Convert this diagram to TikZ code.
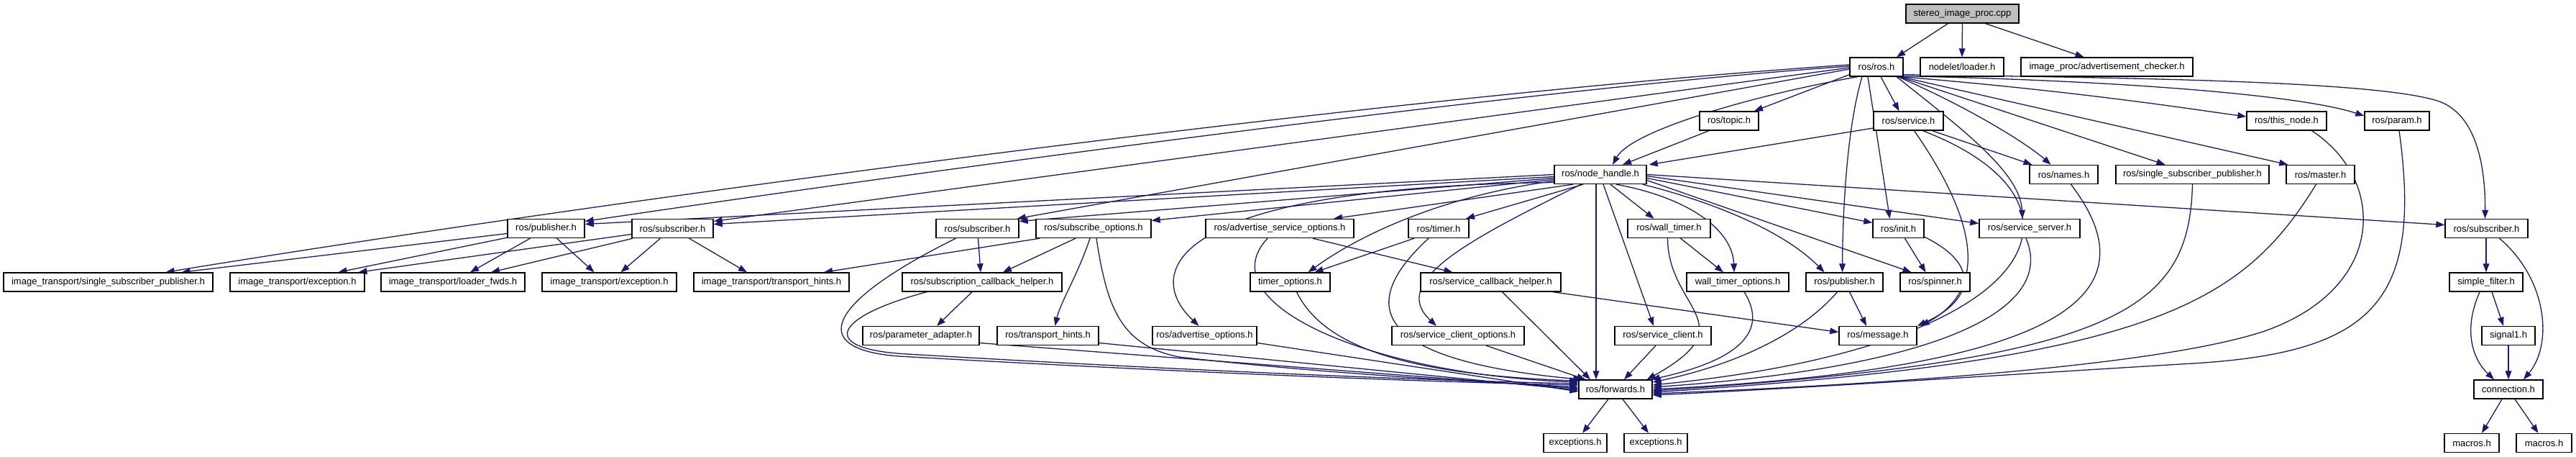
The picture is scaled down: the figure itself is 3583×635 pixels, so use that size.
\documentclass[tikz,border=0pt]{standalone}
\usepackage{fontspec}
\setmainfont{Liberation Sans}
\usetikzlibrary{arrows.meta,calc}
\definecolor{edgecol}{HTML}{191970}
\pgfdeclarelayer{background}
\pgfsetlayers{background,main}
\begin{document}
\begin{tikzpicture}[x=0.5pt,y=-0.5pt,
  nd/.style={draw=black,line width=0.7pt,fill=white,minimum height=13pt,inner sep=0pt,font=\fontsize{6.5}{7.5}\selectfont},
  e/.style={draw=edgecol,line width=0.65pt,-{Triangle[length=6pt,width=4.4pt]}}]
\useasboundingbox (0,0) rectangle (3583,635);
% row 1
\node[nd,fill=gray!50,minimum width=78.5pt] (sip) at (2729.5,19) {stereo\_image\_proc.cpp};
% row 2
\node[nd,minimum width=37pt] (rosh) at (2610,93) {ros/ros.h};
\node[nd,minimum width=58pt] (loader) at (2729,93) {nodelet/loader.h};
\node[nd,minimum width=119.5pt] (adv) at (2930.5,93) {image\_proc/advertisement\_checker.h};
% row 3
\node[nd,minimum width=41pt] (topic) at (2405,168) {ros/topic.h};
\node[nd,minimum width=48.5pt] (service) at (2654.5,168) {ros/service.h};
\node[nd,minimum width=55.5pt] (thisnode) at (3180.5,168) {ros/this\_node.h};
\node[nd,minimum width=45pt] (param) at (3334,168) {ros/param.h};
% row 4
\node[nd,minimum width=64pt] (nh) at (2226,242.5) {ros/node\_handle.h};
\node[nd,minimum width=47.5pt] (names) at (2870.5,242.5) {ros/names.h};
\node[nd,minimum width=106.5pt] (ssp) at (3049.5,242.5) {ros/single\_subscriber\_publisher.h};
\node[nd,minimum width=47.5pt] (master) at (3227.5,242.5) {ros/master.h};
% row 5
\node[nd,minimum width=53.5pt] (pub1) at (759.5,317.5) {ros/publisher.h};
\node[nd,minimum width=56.5pt] (sub1) at (935.5,317.5) {ros/subscriber.h};
\node[nd,minimum width=57.5pt] (sub2) at (1359.5,317.5) {ros/subscriber.h};
\node[nd,minimum width=80pt] (subopt) at (1521,317.5) {ros/subscribe\_options.h};
\node[nd,minimum width=103pt] (advsrv) at (1780,317.5) {ros/advertise\_service\_options.h};
\node[nd,minimum width=42pt] (timer) at (2001,317.5) {ros/timer.h};
\node[nd,minimum width=57.5pt] (walltimer) at (2321.5,317.5) {ros/wall\_timer.h};
\node[nd,minimum width=35.5pt] (init) at (2640.5,317.5) {ros/init.h};
\node[nd,minimum width=70pt] (srvserver) at (2823,317.5) {ros/service\_server.h};
\node[nd,minimum width=57.5pt] (sub3) at (3458.5,317.5) {ros/subscriber.h};
% row 6
\node[nd,minimum width=145.5pt] (itssp) at (150.5,392) {image\_transport/single\_subscriber\_publisher.h};
\node[nd,minimum width=93.5pt] (itexc1) at (413.5,392) {image\_transport/exception.h};
\node[nd,minimum width=100pt] (itloader) at (630,392) {image\_transport/loader\_fwds.h};
\node[nd,minimum width=93.5pt] (itexc2) at (847.5,392) {image\_transport/exception.h};
\node[nd,minimum width=108pt] (ittrans) at (1073,392) {image\_transport/transport\_hints.h};
\node[nd,minimum width=111pt] (subcb) at (1366,392) {ros/subscription\_callback\_helper.h};
\node[nd,minimum width=55.5pt] (timeropt) at (1794.5,392) {timer\_options.h};
\node[nd,minimum width=97.5pt] (srvcb) at (2073.5,392) {ros/service\_callback\_helper.h};
\node[nd,minimum width=71pt] (walltopt) at (2417,392) {wall\_timer\_options.h};
\node[nd,minimum width=53.5pt] (pub2) at (2565.5,392) {ros/publisher.h};
\node[nd,minimum width=48.5pt] (spinner) at (2691.5,392) {ros/spinner.h};
\node[nd,minimum width=51pt] (simplef) at (3458,392) {simple\_filter.h};
% row 7
\node[nd,minimum width=81pt] (paramad) at (1281,466.5) {ros/parameter\_adapter.h};
\node[nd,minimum width=70.5pt] (transh) at (1457.5,466.5) {ros/transport\_hints.h};
\node[nd,minimum width=72.5pt] (advopt) at (1675.5,466.5) {ros/advertise\_options.h};
\node[nd,minimum width=92pt] (srvclopt) at (2028,466.5) {ros/service\_client\_options.h};
\node[nd,minimum width=67pt] (srvcl) at (2313,466.5) {ros/service\_client.h};
\node[nd,minimum width=54pt] (message) at (2612,466.5) {ros/message.h};
\node[nd,minimum width=37pt] (signal1) at (3489,466.5) {signal1.h};
% row 8
\node[nd,minimum width=51pt] (fwd) at (2247,541) {ros/forwards.h};
\node[nd,minimum width=48pt] (conn) at (3489,541) {connection.h};
% row 9
\node[nd,minimum width=44pt] (exc1) at (2191,615.5) {exceptions.h};
\node[nd,minimum width=44pt] (exc2) at (2303,615.5) {exceptions.h};
\node[nd,minimum width=38pt] (macros1) at (3438,615.5) {macros.h};
\node[nd,minimum width=38.5pt] (macros2) at (3538.5,615.5) {macros.h};

\begin{pgfonlayer}{background}
% ---- edges from stereo_image_proc.cpp
\draw[e] ($(sip.south)+(-20,0)$) -- ($(rosh.north)+(28,0)$);
\draw[e] (sip.south) -- (loader.north);
\draw[e] ($(sip.south)+(32,0)$) -- ($(adv.north)+(-32,0)$);
% ---- ros/ros.h
\draw[e] ($(rosh.south west)+(0,-3)$) -- ($(topic.north)+(35,0)$);
\draw[e] ($(rosh.south)+(-26,0)$) .. controls (2450,130) and (2270,180) .. ($(nh.north)+(17,0)$);
\draw[e] ($(rosh.south)+(6,0)$) -- ($(service.north)+(-13,0)$);
\draw[e] ($(rosh.south)+(30,0)$) .. controls (2740,150) and (2820,200) .. ($(names.north)+(-18,0)$);
\draw[e] ($(rosh.south east)+(-6,0)$) -- ($(ssp.north)+(-38,0)$);
\draw[e] ($(rosh.south east)+(-4,0)$) -- ($(master.north west)+(3,0)$);
\draw[e] ($(rosh.south east)+(-2,0)$) .. controls (2900,128) and (3050,152) .. ($(thisnode.west)+(0,-6)$);
\draw[e] ($(rosh.south east)+(0,-1)$) .. controls (2950,112) and (3200,132) .. ($(param.west)+(0,-7)$);
\draw[e] ($(rosh.south east)+(0,-3)$) .. controls (2950,108) and (3300,112) .. (3390,140) .. controls (3440,156) and (3457,220) .. ($(sub3.north)+(-2,0)$);
\draw[e] ($(rosh.south)+(-12,0)$) -- ($(init.north)+(-12,0)$);
\draw[e] ($(rosh.south)+(-20,0)$) .. controls (2568,180) and (2563,300) .. ($(pub2.north)+(-3,0)$);
\draw[e] ($(rosh.south)+(28,0)$) .. controls (2730,180) and (2810,240) .. ($(srvserver.north)+(-10,0)$);
\draw[e] ($(rosh.west)+(0,-3)$) .. controls (1900,135) and (800,285) .. ($(itssp.north)+(80,0)$);
\draw[e] ($(rosh.west)+(0,-1)$) .. controls (2100,125) and (1200,250) .. ($(pub1.east)+(0,-10)$);
\draw[e] ($(rosh.west)+(0,1)$) -- ($(sub1.east)+(0,-10)$);
\draw[e] ($(rosh.west)+(0,3)$) -- ($(sub2.north east)+(-3,0)$);
% ---- topic, service
\draw[e] ($(topic.south)+(-28,0)$) -- ($(nh.north)+(31,0)$);
\draw[e] ($(service.west)+(0,10)$) -- ($(nh.north east)+(3,0)$);
\draw[e] ($(service.south)+(33,0)$) -- ($(names.north)+(-44,0)$);
\draw[e] ($(service.south)+(8,0)$) .. controls (2745,300) and (2770,400) .. ($(message.north east)+(5,0)$);
\draw[e] ($(service.south)+(20,0)$) .. controls (2930,280) and (2850,480) .. ($(fwd.east)+(0,-6)$);
% ---- node_handle
\draw[e] (nh.west) -- ($(pub1.east)+(0,-6)$);
\draw[e] ($(nh.west)+(0,3)$) -- ($(sub1.east)+(0,-6)$);
\draw[e] ($(nh.west)+(0,5)$) -- ($(sub2.east)+(0,-10)$);
\draw[e] ($(nh.west)+(0,7)$) -- ($(subopt.east)+(0,-11)$);
\draw[e] ($(nh.south)+(-38,0)$) -- ($(advsrv.north)+(75,0)$);
\draw[e] ($(nh.south)+(-24,0)$) -- ($(timer.north)+(38,0)$);
\draw[e] ($(nh.west)+(0,9)$) .. controls (2020,270) and (1900,320) .. ($(timeropt.north)+(25,0)$);
\draw[e] ($(nh.south)+(-27,0)$) .. controls (2050,330) and (1930,390) .. ($(srvclopt.north)+(-30,0)$);
\draw[e] ($(nh.south)+(-6,0)$) -- ($(fwd.north)+(-27,0)$);
\draw[e] ($(nh.south)+(4,0)$) -- ($(srvcl.north)+(-13,0)$);
\draw[e] ($(nh.south)+(14,0)$) -- ($(walltimer.north)+(-21,0)$);
\draw[e] ($(nh.south)+(22,0)$) .. controls (2350,275) and (2410,320) .. ($(walltopt.north)+(-5,0)$);
\draw[e] ($(nh.south east)+(-6,0)$) .. controls (2380,280) and (2480,320) .. ($(pub2.north)+(-28,0)$);
\draw[e] ($(nh.east)+(0,8)$) -- ($(spinner.north)+(-33,0)$);
\draw[e] ($(nh.east)+(0,5)$) -- ($(init.west)+(0,-8)$);
\draw[e] ($(nh.east)+(0,2)$) -- ($(srvserver.west)+(0,-7)$);
\draw[e] (nh.east) -- ($(sub3.west)+(0,-5)$);
\draw[e] ($(nh.west)+(0,11)$) .. controls (1620,260) and (1590,380) .. ($(advopt.north)+(-8,0)$);
% ---- left group
\draw[e] ($(pub1.west)+(0,7)$) -- ($(itssp.north)+(102,0)$);
\draw[e] ($(pub1.south west)+(0,-1)$) -- ($(itexc1.north)+(57,0)$);
\draw[e] ($(pub1.south)+(-22,0)$) -- ($(itloader.north)+(24,0)$);
\draw[e] ($(pub1.south)+(15,0)$) -- ($(itexc2.north)+(-21,0)$);
\draw[e] ($(sub1.west)+(0,8)$) -- ($(itexc1.north)+(85,0)$);
\draw[e] ($(sub1.south west)+(2,0)$) -- ($(itloader.north)+(53,0)$);
\draw[e] ($(sub1.south)+(-17,0)$) -- ($(itexc2.north)+(16,0)$);
\draw[e] ($(sub1.south)+(23,0)$) -- ($(ittrans.north)+(-34,0)$);
\draw[e] ($(sub2.south)+(1,0)$) -- ($(subcb.north)+(-2,0)$);
\draw[e] ($(subopt.south west)+(6,0)$) -- ($(ittrans.north)+(73,0)$);
\draw[e] ($(subopt.south)+(-25,0)$) -- ($(subcb.north)+(29,0)$);
\draw[e] ($(subopt.south)+(-5,0)$) .. controls (1500,380) and (1475,420) .. ($(transh.north)+(10,0)$);
\draw[e] ($(subcb.south)+(-14,0)$) -- ($(paramad.north)+(22,0)$);
\draw[e] ($(advsrv.south)+(46,0)$) -- ($(srvcb.north)+(-53,0)$);
\draw[e] ($(timer.south)+(-34,0)$) -- ($(timeropt.north)+(34,0)$);
\draw[e] ($(walltimer.south)+(16,0)$) -- ($(walltopt.north)+(-20,0)$);
% ---- into ros/forwards.h from the left
\draw[e] ($(sub2.south)+(-30,0)$) .. controls (1150,420) and (1120,485) .. (1250,495) .. controls (1600,515) and (1950,530) .. ($(fwd.west)+(0,-6)$);
\draw[e] ($(subcb.south)+(-77,0)$) .. controls (1160,440) and (1135,485) .. (1262,492) .. controls (1600,512) and (1950,528) .. ($(fwd.west)+(0,-8)$);
\draw[e] ($(subopt.south)+(4,0)$) .. controls (1540,430) and (1560,480) .. (1640,496) .. controls (1850,520) and (2050,530) .. ($(fwd.west)+(0,-3)$);
\draw[e] ($(paramad.east)+(0,10)$) -- ($(fwd.west)+(0,-1)$);
\draw[e] ($(transh.east)+(0,10)$) -- ($(fwd.west)+(0,1)$);
\draw[e] ($(advopt.east)+(0,10)$) -- ($(fwd.west)+(0,3)$);
\draw[e] ($(advsrv.south)+(-17,0)$) .. controls (1680,420) and (1900,520) .. ($(fwd.west)+(0,-10)$);
\draw[e] ($(timeropt.south)+(9,0)$) .. controls (1840,480) and (1950,520) .. ($(fwd.north west)+(0,2)$);
\draw[e] ($(timer.south)+(-14,0)$) .. controls (1890,420) and (1900,500) .. ($(fwd.north west)+(5,0)$);
\draw[e] ($(srvclopt.south)+(39,0)$) -- ($(fwd.north west)+(10,0)$);
\draw[e] ($(srvcb.south)+(16,0)$) -- ($(fwd.north)+(-35,0)$);
\draw[e] ($(srvcl.south)+(-10,0)$) -- ($(fwd.north)+(12,0)$);
\draw[e] ($(walltimer.south)+(-2,0)$) .. controls (2320,430) and (2430,450) .. ($(fwd.north east)+(-8,0)$);
\draw[e] ($(walltopt.south)+(9,0)$) .. controls (2460,460) and (2420,500) .. ($(fwd.north east)+(-2,0)$);
\draw[e] ($(pub2.south)+(-10,0)$) .. controls (2500,470) and (2400,510) .. ($(fwd.east)+(0,-10)$);
% ---- into ros/message.h, spinner
\draw[e] ($(pub2.south)+(7,0)$) -- ($(message.north)+(-16,0)$);
\draw[e] ($(srvcb.south east)+(-12,0)$) -- ($(message.west)+(0,-5)$);
\draw[e] ($(init.south east)+(0,-2)$) .. controls (2760,370) and (2740,420) .. (message.north east);
\draw[e] ($(init.south)+(9,0)$) -- ($(spinner.north)+(-13,0)$);
% ---- into ros/forwards.h from the right
\draw[e] ($(srvserver.south)+(-5,0)$) .. controls (2860,430) and (2700,510) .. ($(fwd.east)+(0,-3)$);
\draw[e] ($(names.south)+(10,0)$) .. controls (2990,400) and (2900,510) .. (fwd.east);
\draw[e] (ssp.south) .. controls (3045,430) and (2950,500) .. ($(fwd.east)+(0,2)$);
\draw[e] ($(master.south)+(-6,0)$) .. controls (3120,420) and (3000,500) .. ($(fwd.east)+(0,4)$);
\draw[e] ($(thisnode.south)+(35,0)$) .. controls (3320,250) and (3320,400) .. (3150,460) .. controls (3000,510) and (2600,535) .. ($(fwd.east)+(0,6)$);
\draw[e] ($(param.south)+(3,0)$) .. controls (3370,420) and (3300,490) .. (3050,505) .. controls (2800,520) and (2500,540) .. ($(fwd.east)+(0,8)$);
% ---- right group
\draw[e] ($(sub3.south)+(-0.5,0)$) -- (simplef.north);
\draw[e] ($(sub3.south)+(18,0)$) .. controls (3545,390) and (3550,480) .. ($(conn.north)+(21,0)$);
\draw[e] ($(simplef.south)+(8,0)$) -- ($(signal1.north)+(-7,0)$);
\draw[e] ($(simplef.south)+(-9,0)$) .. controls (3425,460) and (3440,500) .. ($(conn.north)+(-20,0)$);
\draw[e] (signal1.south) -- (conn.north);
\draw[e] ($(conn.south)+(-9,0)$) -- ($(macros1.north)+(14,0)$);
\draw[e] ($(conn.south)+(9,0)$) -- ($(macros2.north)+(-8,0)$);
% ---- forwards
\draw[e] ($(fwd.south)+(-10,0)$) -- ($(exc1.north)+(10,0)$);
\draw[e] ($(fwd.south)+(10,0)$) -- ($(exc2.north)+(-10,0)$);
\end{pgfonlayer}
\end{tikzpicture}
\end{document}
